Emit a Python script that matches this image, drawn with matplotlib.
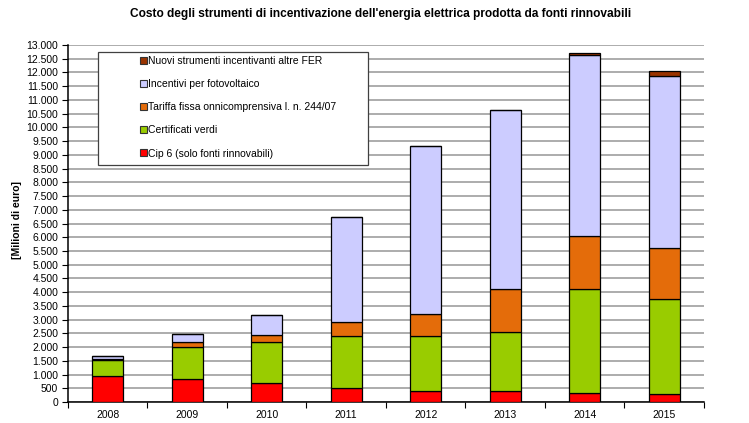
import numpy as np
import matplotlib
matplotlib.use("Agg")
import matplotlib.pyplot as plt
from matplotlib.patches import Patch, Rectangle
from matplotlib.ticker import FuncFormatter, MultipleLocator

plt.rcParams['font.family'] = ['Liberation Sans', 'DejaVu Sans']

# data (milioni di euro)
anni = ['2008', '2009', '2010', '2011', '2012', '2013', '2014', '2015']
cip6 = [950, 830, 700, 520, 400, 400, 330, 300]
certificati = [580, 1190, 1500, 1900, 2010, 2160, 3800, 3440]
tariffa = [50, 150, 250, 500, 790, 1550, 1920, 1870]
fotovoltaico = [100, 320, 730, 3800, 6120, 6510, 6570, 6270]
nuovi = [0, 0, 0, 20, 10, 10, 100, 170]

serie = [
    ("Cip 6 (solo fonti rinnovabili)", cip6, "#FF0000"),
    ("Certificati verdi", certificati, "#99CC00"),
    ("Tariffa fissa onnicomprensiva l. n. 244/07", tariffa, "#E46C0A"),
    ("Incentivi per fotovoltaico", fotovoltaico, "#CCCCFF"),
    ("Nuovi strumenti incentivanti altre FER", nuovi, "#993300"),
]

fig = plt.figure(figsize=(7.49, 4.23), dpi=100)
ax = fig.add_axes([0.0908, 0.0496, 0.849, 0.844])

x = np.arange(len(anni))
bottom = np.zeros(len(anni))
for nome, valori, colore in serie:
    ax.bar(x, valori, bottom=bottom, width=0.39, color=colore,
           edgecolor="black", linewidth=0.9, zorder=3)
    bottom += np.array(valori)

ax.set_xlim(-0.5, len(anni) - 0.5)
ax.set_ylim(0, 13000)
ax.yaxis.set_major_locator(MultipleLocator(500))
ax.yaxis.set_major_formatter(FuncFormatter(lambda v, p: f"{int(v):,}".replace(",", ".")))
ax.grid(axis="y", color="#A6A6A6", linewidth=1.3, zorder=0)

ax.set_xticks(x)
ax.set_xticklabels(anni)
ax.set_xticks(np.arange(len(anni) + 1) - 0.5, minor=True)
ax.tick_params(axis="x", which="major", length=0, pad=6, labelsize=7.5)
ax.tick_params(axis="x", which="minor", length=4, direction="out", width=0.8)
ax.tick_params(axis="y", length=4, direction="out", width=0.8, labelsize=7.5, pad=3)

for s in ["top", "right"]:
    ax.spines[s].set_visible(False)
ax.spines["left"].set_linewidth(1.1)
ax.spines["bottom"].set_linewidth(1.1)

ax.set_ylabel("[Milioni di euro]", fontsize=7.5, fontweight="bold")
ax.yaxis.set_label_coords(-0.072, 0.51)
fig.suptitle("Costo degli strumenti di incentivazione dell'energia elettrica prodotta da fonti rinnovabili",
             fontsize=8.6, fontweight="bold", x=0.508, y=0.982)

# legend box
ax.add_patch(Rectangle((0.047, 0.664), 0.425, 0.316, transform=ax.transAxes,
                       facecolor="white", edgecolor="#404040", linewidth=0.9, zorder=4))
handles = [Patch(facecolor=c, edgecolor="#333333", linewidth=0.8, label=n) for n, v, c in serie][::-1]
leg = ax.legend(handles=handles, loc="upper left", bbox_to_anchor=(0.113, 0.968),
                frameon=False, fontsize=7.5, handlelength=0.65, handleheight=0.65,
                handletextpad=0.15, labelspacing=1.25, borderpad=0, borderaxespad=0)
leg.set_zorder(5)

fig.savefig("out.png", dpi=100)
